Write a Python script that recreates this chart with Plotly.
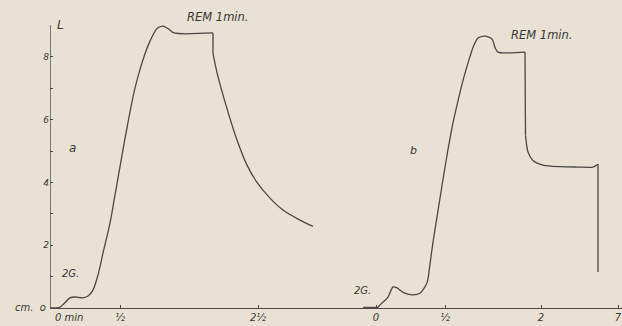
import plotly.graph_objects as go

# Horizontal unit: chart scale units (axis origin = 0); vertical: L (cm)
a_x = [0, 1.0, 2.0, 2.5, 3.2, 3.8, 4.3, 4.8, 5.3, 6.0, 6.5, 7.0, 7.5, 8.0, 8.5, 9.0, 9.5, 10.0,
       10.7, 11.3, 11.8, 12.4, 16.3, 16.3, 16.7, 17.7, 18.7, 19.7, 20.7, 22.0, 23.3, 25.0, 26.3]
a_L = [0, 0.03, 0.32, 0.35, 0.32, 0.38, 0.57, 1.05, 1.75, 2.7, 3.6, 4.5, 5.4, 6.25, 7.0, 7.6, 8.1, 8.5,
       8.9, 8.98, 8.9, 8.76, 8.76, 8.1, 7.5, 6.35, 5.35, 4.55, 4.0, 3.5, 3.12, 2.8, 2.6]

b_x = [31.3, 32.7, 33.0, 33.8, 34.3, 34.7, 35.3, 36.2, 37.0, 37.7, 38.0, 38.3, 38.8, 39.3, 39.8,
       40.3, 40.8, 41.3, 41.8, 42.3, 42.8, 43.5, 44.2, 44.5, 44.8, 47.5, 47.55, 47.8, 48.3, 49.3,
       51.0, 52.7, 54.3, 54.8, 54.8]
b_L = [0, 0, 0.1, 0.35, 0.67, 0.64, 0.5, 0.42, 0.47, 0.8, 1.4, 2.1, 3.1, 4.1, 5.05,
       5.9, 6.6, 7.25, 7.8, 8.3, 8.6, 8.66, 8.57, 8.3, 8.15, 8.15, 5.5, 4.97, 4.7, 4.55,
       4.5, 4.49, 4.49, 4.58, 1.15]

# indices where the pen turns a sharp corner (vertical steps)
a_corners = [22, 23]
b_corners = [25, 26, 33]

x_tick_vals = [7.0, 20.8, 32.6, 39.5, 49.1, 56.8]
x_tick_text = ["½", "2½", "0", "½", "2", "7"]
y_tick_vals = [1, 2, 3, 4, 5, 6, 7, 8]
y_tick_text = ["", "2", "", "4", "", "6", "", "8"]

BG = "#e8e1d4"
INK = "#4a4744"
TXT = "#3a3835"
FONT = "DejaVu Sans"

fig = go.Figure()


def add_curve(xs, ys, corners):
    bounds = [0] + corners + [len(xs) - 1]
    for i0, i1 in zip(bounds[:-1], bounds[1:]):
        seg_x = xs[i0:i1 + 1]
        seg_y = ys[i0:i1 + 1]
        shape = "spline" if len(seg_x) > 2 else "linear"
        fig.add_trace(go.Scatter(x=seg_x, y=seg_y, mode="lines",
                                 line=dict(color=INK, width=1.3, shape=shape, smoothing=0.7),
                                 showlegend=False, hoverinfo="skip"))


add_curve(a_x, a_L, a_corners)
add_curve(b_x, b_L, b_corners)

fig.add_shape(type="line", xref="x", yref="y", x0=0, x1=0, y0=0, y1=9.01,
              line=dict(color=INK, width=1.4))
fig.add_shape(type="line", xref="x", yref="y", x0=31.3, x1=32.7, y0=0, y1=0,
              line=dict(color=INK, width=2.4))

fig.update_xaxes(range=[0, 57.2], showgrid=False, zeroline=False, showline=True,
                 linecolor=INK, linewidth=1.4, ticks="inside", ticklen=3, tickcolor=INK,
                 tickvals=x_tick_vals, ticktext=x_tick_text,
                 tickfont=dict(family=FONT, size=10, color=TXT, style="italic"))
fig.update_yaxes(range=[0, 9.81], showgrid=False, zeroline=False, showline=False,
                 ticks="inside", ticklen=3, tickcolor=INK,
                 tickvals=y_tick_vals, ticktext=y_tick_text,
                 tickfont=dict(family=FONT, size=9, color=TXT, style="italic"))


def ann(text, x, y, size=10, xref="x", yref="y", xanchor="center"):
    fig.add_annotation(text=text, x=x, y=y, xref=xref, yref=yref, showarrow=False,
                       xanchor=xanchor, yanchor="middle",
                       font=dict(family=FONT, size=size, color=TXT, style="italic"))


ann("L", 1.0, 9.0, size=12)
ann("cm.  o", -0.004, 0.003, size=10, xref="paper", yref="paper", xanchor="right")
ann("0 min", 0.0052, -0.03, size=10, xref="paper", yref="paper", xanchor="left")
ann("a", 2.2, 5.1, size=12)
ann("2G.", 2.0, 1.11, size=10)
ann("REM 1min.", 16.8, 9.27, size=11.5)
ann("b", 36.3, 5.03, size=11)
ann("2G.", 31.2, 0.57, size=10)
ann("REM 1min.", 49.2, 8.69, size=11.5)

fig.update_layout(width=622, height=326, margin=dict(l=50, r=0, t=0, b=18),
                  paper_bgcolor=BG, plot_bgcolor=BG)
fig.write_html("out.html")
